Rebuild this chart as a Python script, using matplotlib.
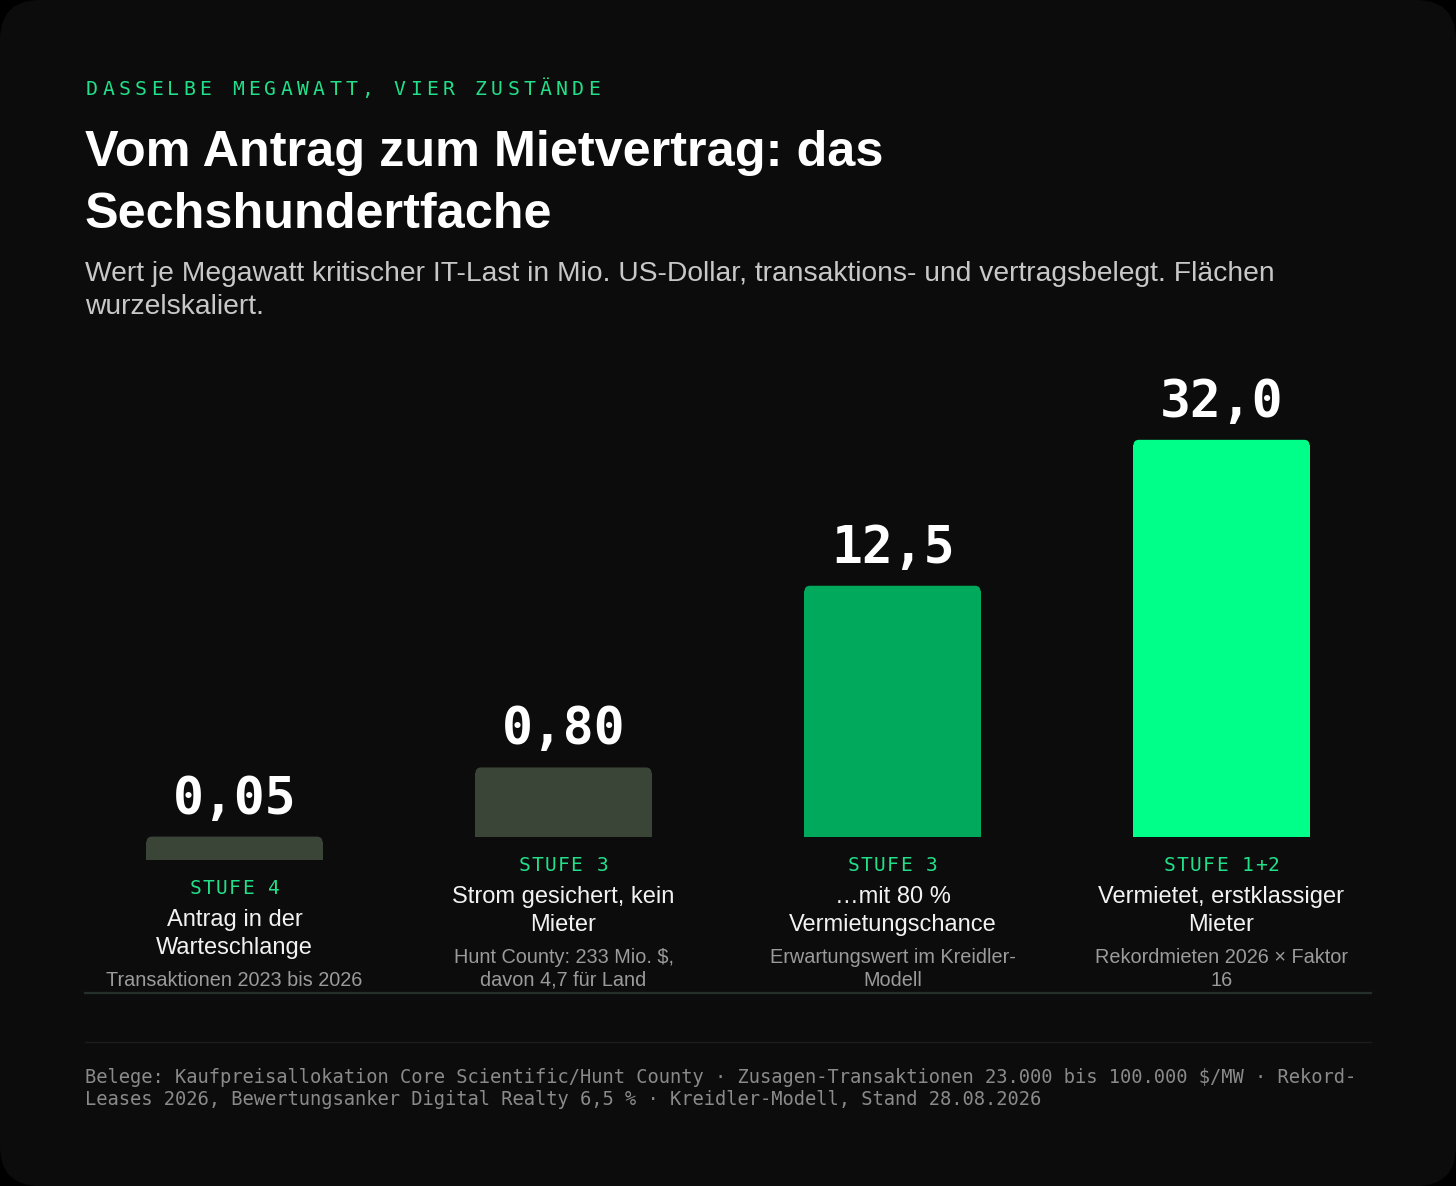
import numpy as np
import matplotlib.pyplot as plt
from matplotlib.patches import FancyBboxPatch
from matplotlib.lines import Line2D
from matplotlib.transforms import offset_copy

W, H = 1456, 1186

# data
stufen = ["STUFE 4", "STUFE 3", "STUFE 3", "STUFE 1+2"]
namen = ["Antrag in der\nWarteschlange", "Strom gesichert, kein\nMieter",
         "…mit 80 %\nVermietungschance", "Vermietet, erstklassiger\nMieter"]
notizen = ["Transaktionen 2023 bis 2026", "Hunt County: 233 Mio. $,\ndavon 4,7 für Land",
           "Erwartungswert im Kreidler-\nModell", "Rekordmieten 2026 × Faktor\n16"]
werte = [0.05, 0.80, 12.5, 32.0]
farben = ["#3b4537", "#3b4537", "#00a95b", "#00ff88"]

eyebrow = "DASSELBE MEGAWATT, VIER ZUSTÄNDE"
titel = ["Vom Antrag zum Mietvertrag: das", "Sechshundertfache"]
untertitel = ["Wert je Megawatt kritischer IT-Last in Mio. US-Dollar, transaktions- und vertragsbelegt. Flächen",
              "wurzelskaliert."]
quelle = ["Belege: Kaufpreisallokation Core Scientific/Hunt County · Zusagen-Transaktionen 23.000 bis 100.000 $/MW · Rekord-",
          "Leases 2026, Bewertungsanker Digital Realty 6,5 % · Kreidler-Modell, Stand 28.08.2026"]

GREEN = "#22e08a"
SANS = ["Liberation Sans", "DejaVu Sans"]
MONO = ["DejaVu Sans Mono"]


def fmt(v):
    s = f"{v:.2f}" if v < 1 else f"{v:.1f}"
    return s.replace(".", ",")


fig = plt.figure(figsize=(W / 100, H / 100), dpi=100)
fig.patch.set_facecolor("black")
card = FancyBboxPatch((0, 0), 1, 1, boxstyle=f"round,pad=0,rounding_size={40 / W}",
                      mutation_aspect=W / H, transform=fig.transFigure,
                      facecolor="#0c0c0c", edgecolor="none", zorder=0)
fig.add_artist(card)


def ftext(x, y, s, **kw):
    return fig.text(x / W, 1 - y / H, s, **kw)


def spaced(x, y, s, step, trans, **kw):
    # letter-spaced text, one glyph at a time, centered on x
    n = len(s)
    for k, ch in enumerate(s):
        dx = (k - (n - 1) / 2) * step
        fig.text(x, y, ch, transform=offset_copy(trans, fig=fig, x=dx, units="dots"),
                 ha="center", **kw)


# header
eb_step = 16.2
spaced((86 + 6 + (len(eyebrow) - 1) / 2 * eb_step) / W, 1 - 95 / H, eyebrow, eb_step, fig.transFigure,
       family=MONO, fontsize=14.2, color=GREEN, va="baseline")
ftext(85, 166, titel[0], family=SANS, fontsize=36.3, fontweight="bold", color="white", va="baseline")
ftext(85, 228, titel[1], family=SANS, fontsize=36.3, fontweight="bold", color="white", va="baseline")
ftext(85, 281, untertitel[0], family=SANS, fontsize=20.3, color="#c8c8c8", va="baseline")
ftext(85, 314, untertitel[1], family=SANS, fontsize=20.3, color="#c8c8c8", va="baseline")

# chart area: one unit in y = one pixel above the base rule
ax = fig.add_axes([70 / W, 1 - 993 / H, 1316 / W, 653 / H])
ax.set_xlim(-0.5, 3.5)
ax.set_ylim(0, 653)
ax.axis("off")
ax.patch.set_alpha(0)

x = np.arange(len(werte))
n_notiz = np.array([len(n.split("\n")) for n in notizen])
bottoms = 110 + 23 * n_notiz
heights = 8 + 68.8 * np.sqrt(werte)
bw = 0.535
r = 5.5

ax.bar(x, heights - r, bottom=bottoms, width=bw, color=farben, zorder=2)
for i in x:
    top = FancyBboxPatch((i - bw / 2, bottoms[i] + heights[i] / 2), bw, heights[i] / 2,
                         boxstyle=f"round,pad=0,rounding_size={r / 329}", mutation_aspect=329,
                         facecolor=farben[i], edgecolor="none", zorder=2)
    ax.add_patch(top)
    ax.text(i, bottoms[i] + heights[i] + 23, fmt(werte[i]), ha="center", va="baseline",
            family=MONO, fontweight="bold", fontsize=37, color="white")
    spaced(i, bottoms[i] - 34, stufen[i], 13, ax.transData,
           family=MONO, fontsize=14, color=GREEN, va="baseline")
    for k, line in enumerate(namen[i].split("\n")):
        ax.text(i, bottoms[i] - 66 - 28 * k, line, ha="center", va="baseline",
                family=SANS, fontsize=17, color="#f2f2f2")
    for k, line in enumerate(notizen[i].split("\n")):
        ax.text(i, bottoms[i] - 126 - 23 * k, line, ha="center", va="baseline",
                family=SANS, fontsize=14.3, color="#9b9b9b")

# rules
fig.add_artist(Line2D([85 / W, 1371 / W], [1 - 993 / H] * 2, transform=fig.transFigure,
                      color="#26302a", lw=1.6))
fig.add_artist(Line2D([85 / W, 1371 / W], [1 - 1042 / H] * 2, transform=fig.transFigure,
                      color="#1d1d1d", lw=1))

# footer
ftext(85, 1083, quelle[0], family=MONO, fontsize=13.5, color="#8a8a8a", va="baseline")
ftext(85, 1105, quelle[1], family=MONO, fontsize=13.5, color="#8a8a8a", va="baseline")

fig.savefig("out.png", dpi=100, facecolor=fig.get_facecolor())
